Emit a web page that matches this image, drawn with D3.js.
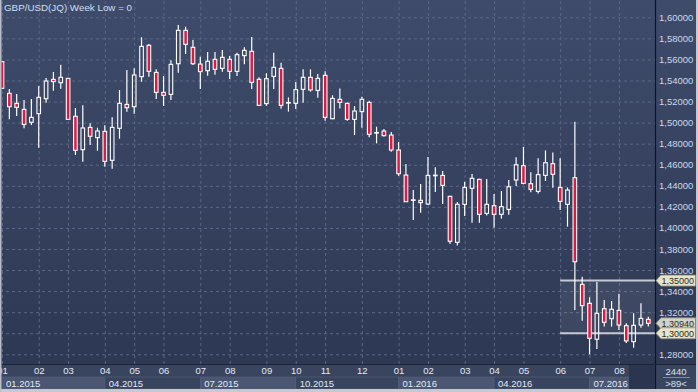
<!DOCTYPE html>
<html>
<head>
<meta charset="utf-8">
<script src="https://cdn.jsdelivr.net/npm/d3@7"></script>
<style>
  html, body { margin: 0; padding: 0; background: #2d3853; }
  svg { display: block; font-family: "Liberation Sans", Arial, sans-serif; }
</style>
</head>
<body>
<svg id="chart" width="698" height="392"></svg>
<script>
// Weekly GBP/USD candles, 01.2015 - 08.2016
const opens = [
  1.5579, 1.5278, 1.5183, 1.5126, 1.5003, 1.5085, 1.5227, 1.5411, 1.5379, 1.5420,
  1.5060, 1.4743, 1.4955, 1.4857, 1.4917, 1.4642, 1.4946, 1.5173, 1.5151, 1.5436,
  1.5734, 1.5477, 1.5287, 1.5268, 1.5559, 1.5876, 1.5715, 1.5556, 1.5493, 1.5601,
  1.5515, 1.5601, 1.5487, 1.5636, 1.5677, 1.5411, 1.5180, 1.5439, 1.5515, 1.5188,
  1.5183, 1.5316, 1.5430, 1.5306, 1.5449, 1.5037, 1.5221, 1.5183, 1.5031, 1.5104,
  1.5192, 1.4902, 1.4920, 1.4882, 1.4740, 1.4502, 1.4263, 1.4262, 1.4227, 1.4497,
  1.4499, 1.4300, 1.3863, 1.4224, 1.4376, 1.4461, 1.4138, 1.4211, 1.4129, 1.4176,
  1.4455, 1.4591, 1.4420, 1.4347, 1.4499, 1.4610, 1.4385, 1.4224, 1.4477, 1.3464,
  1.3284, 1.2943, 1.3233, 1.3138, 1.3217, 1.3072, 1.2920, 1.3078, 1.3132
];
const highs = [
  1.5585, 1.5319, 1.5272, 1.5215, 1.5224, 1.5348, 1.5423, 1.5481, 1.5550, 1.5425,
  1.5139, 1.5164, 1.4993, 1.4952, 1.4974, 1.5050, 1.5310, 1.5500, 1.5516, 1.5810,
  1.5746, 1.5506, 1.5443, 1.5591, 1.5927, 1.5911, 1.5785, 1.5626, 1.5670, 1.5670,
  1.5689, 1.5632, 1.5664, 1.5715, 1.5813, 1.5430, 1.5468, 1.5664, 1.5569, 1.5240,
  1.5385, 1.5506, 1.5506, 1.5462, 1.5487, 1.5259, 1.5325, 1.5190, 1.5158, 1.5246,
  1.5208, 1.4961, 1.4939, 1.4911, 1.4816, 1.4607, 1.4360, 1.4417, 1.4673, 1.4575,
  1.4540, 1.4305, 1.4246, 1.4439, 1.4512, 1.4466, 1.4465, 1.4322, 1.4350, 1.4455,
  1.4670, 1.4769, 1.4528, 1.4661, 1.4736, 1.4717, 1.4661, 1.4385, 1.5009, 1.3537,
  1.3341, 1.3487, 1.3316, 1.3306, 1.3376, 1.3094, 1.3189, 1.3284, 1.3157
];
const lows = [
  1.5320, 1.5031, 1.5063, 1.4946, 1.4977, 1.4762, 1.5189, 1.5303, 1.5322, 1.5025,
  1.4692, 1.4629, 1.4788, 1.4733, 1.4581, 1.4563, 1.4847, 1.5104, 1.5085, 1.5389,
  1.5436, 1.5224, 1.5158, 1.5215, 1.5474, 1.5651, 1.5547, 1.5319, 1.5446, 1.5455,
  1.5484, 1.5414, 1.5443, 1.5553, 1.5319, 1.5160, 1.5161, 1.5319, 1.5132, 1.5104,
  1.5129, 1.5189, 1.5294, 1.5237, 1.5018, 1.5032, 1.5135, 1.5018, 1.4882, 1.4952,
  1.4860, 1.4803, 1.4867, 1.4724, 1.4493, 1.4245, 1.4075, 1.4145, 1.4218, 1.4341,
  1.4227, 1.3848, 1.3832, 1.4113, 1.4050, 1.4050, 1.4117, 1.4002, 1.4088, 1.4126,
  1.4398, 1.4414, 1.4338, 1.4328, 1.4446, 1.4382, 1.4170, 1.4012, 1.3220, 1.3119,
  1.2800, 1.2851, 1.3063, 1.3063, 1.3031, 1.2908, 1.2863, 1.3053, 1.3063
];
const closes = [
  1.5326, 1.5151, 1.5145, 1.4983, 1.5050, 1.5240, 1.5395, 1.5389, 1.5430, 1.5031,
  1.4737, 1.4949, 1.4870, 1.4920, 1.4632, 1.4955, 1.5183, 1.5142, 1.5452, 1.5724,
  1.5487, 1.5287, 1.5259, 1.5553, 1.5876, 1.5743, 1.5559, 1.5484, 1.5582, 1.5506,
  1.5620, 1.5487, 1.5645, 1.5686, 1.5382, 1.5164, 1.5417, 1.5525, 1.5164, 1.5191,
  1.5313, 1.5430, 1.5310, 1.5420, 1.5050, 1.5230, 1.5192, 1.5031, 1.5110, 1.5221,
  1.4889, 1.4906, 1.4876, 1.4740, 1.4515, 1.4249, 1.4267, 1.4240, 1.4499, 1.4501,
  1.4404, 1.3873, 1.4224, 1.4385, 1.4471, 1.4129, 1.4224, 1.4129, 1.4202, 1.4391,
  1.4600, 1.4423, 1.4366, 1.4506, 1.4619, 1.4509, 1.4252, 1.4360, 1.3679, 1.3262,
  1.2952, 1.3189, 1.3104, 1.3227, 1.3078, 1.2927, 1.3075, 1.3141, 1.3094
];

// Month ticks (week index of first candle in month) and labels
const monthWeeks = [0, 5, 9, 14, 18, 22, 27, 31, 36, 40, 44, 49, 54, 58, 63, 67, 71, 76, 80, 84];
const monthLabels = ["01", "02", "03", "04", "05", "06", "07", "08", "09", "10",
  "11", "12", "01", "02", "03", "04", "05", "06", "07", "08"];
const quarterWeeks = [0, 14, 27, 40, 54, 67, 80];
const quarterLabels = ["01.2015", "04.2015", "07.2015", "10.2015", "01.2016", "04.2016", "07.2016"];

const priceTicks = [1.28, 1.30, 1.32, 1.34, 1.36, 1.38, 1.40, 1.42, 1.44, 1.46,
  1.48, 1.50, 1.52, 1.54, 1.56, 1.58, 1.60];

// Range box and price tags on the right axis
const boxStartWeek = 76;
const boxLevels = [1.35, 1.30];
const tagValues = [1.35, 1.3094, 1.30];
const tagFills = ["#e8e4c9", "#d2d2c8", "#e8e4c9"];

const title = "GBP/USD(JQ) Week Low = 0";
const footTop = "2440";
const footBottom = ">89<";

const svg = d3.select("#chart");
const W = 698, H = 392;
const plotRight = 655, plotBottom = 364;
const fmt = d => d3.format(".5f")(d).replace(".", ",");

const x = d3.scaleLinear().domain([0, opens.length - 1]).range([2, 648.3]);
const y = d3.scaleLinear().domain([1.28, 1.60]).range([354.3, 17.3]);

const defs = svg.append("defs");
const grad = defs.append("linearGradient")
  .attr("id", "bg").attr("x1", 0).attr("y1", 0).attr("x2", 0).attr("y2", 1);
grad.append("stop").attr("offset", "0%").attr("stop-color", "#3e4b6a");
grad.append("stop").attr("offset", "100%").attr("stop-color", "#2c3752");

defs.append("clipPath").attr("id", "plotclip")
  .append("rect").attr("x", 1.5).attr("y", 0).attr("width", plotRight - 1.5).attr("height", plotBottom);

svg.append("rect").attr("width", W).attr("height", H).attr("fill", "url(#bg)");

// bottom axis strip
svg.append("rect")
  .attr("x", 0).attr("y", plotBottom).attr("width", W).attr("height", H - plotBottom)
  .attr("fill", "#39445e");

// grid
const grid = svg.append("g").attr("clip-path", "url(#plotclip)");
grid.append("g")
  .call(d3.axisLeft(y).tickValues(priceTicks).tickSize(-plotRight).tickFormat(""))
  .call(g => g.select(".domain").remove())
  .call(g => g.selectAll("line")
    .attr("stroke", "#5a6785").attr("stroke-dasharray", "3,3").attr("stroke-width", 1));
grid.append("g")
  .attr("transform", `translate(0,${plotBottom})`)
  .call(d3.axisTop(x).tickValues(monthWeeks).tickSize(plotBottom).tickFormat(""))
  .call(g => g.select(".domain").remove())
  .call(g => g.selectAll("line")
    .attr("stroke", "#5a6785").attr("stroke-dasharray", "3,3").attr("stroke-width", 1));

// range box
const plot = svg.append("g").attr("clip-path", "url(#plotclip)");
plot.append("rect")
  .attr("x", x(boxStartWeek))
  .attr("y", y(boxLevels[0]))
  .attr("width", plotRight - x(boxStartWeek))
  .attr("height", y(boxLevels[1]) - y(boxLevels[0]))
  .attr("fill", "rgba(255,255,255,0.07)");
plot.selectAll("line.box")
  .data(boxLevels)
  .join("line")
  .attr("class", "box")
  .attr("x1", x(boxStartWeek)).attr("x2", plotRight)
  .attr("y1", d => y(d)).attr("y2", d => y(d))
  .attr("stroke", "#c6cad2").attr("stroke-width", 2);

// candles
const candles = opens.map((o, i) => ({ i, o, h: highs[i], l: lows[i], c: closes[i] }));
const bw = 3.6;

const cg = plot.selectAll("g.candle")
  .data(candles)
  .join("g")
  .attr("class", "candle");

cg.append("line")
  .attr("x1", d => x(d.i)).attr("x2", d => x(d.i))
  .attr("y1", d => y(d.h)).attr("y2", d => y(Math.max(d.o, d.c)))
  .attr("stroke", "#fff").attr("stroke-width", 1.2);
cg.append("line")
  .attr("x1", d => x(d.i)).attr("x2", d => x(d.i))
  .attr("y1", d => y(Math.min(d.o, d.c))).attr("y2", d => y(d.l))
  .attr("stroke", "#fff").attr("stroke-width", 1.2);
cg.append("rect")
  .attr("x", d => x(d.i) - bw / 2)
  .attr("y", d => y(Math.max(d.o, d.c)))
  .attr("width", bw)
  .attr("height", d => Math.max(0.6, Math.abs(y(d.o) - y(d.c))))
  .attr("fill", d => d.c < d.o ? "#e5173f" : "none")
  .attr("stroke", "#fff").attr("stroke-width", 1.1);

// separators
svg.append("line").attr("x1", plotRight + 0.5).attr("x2", plotRight + 0.5)
  .attr("y1", 0).attr("y2", H).attr("stroke", "#0e1422").attr("stroke-width", 1.2);
svg.append("line").attr("x1", 0).attr("x2", W)
  .attr("y1", plotBottom + 0.5).attr("y2", plotBottom + 0.5)
  .attr("stroke", "#1c2436").attr("stroke-width", 1.2);

// right price axis (levels hidden under a tag are left out)
const axisTicks = priceTicks.filter(v => !tagValues.some(t => Math.abs(t - v) < 0.003));
svg.append("g")
  .attr("transform", `translate(${plotRight},0)`)
  .call(d3.axisRight(y).tickValues(axisTicks).tickSize(0).tickPadding(4).tickFormat(fmt))
  .call(g => g.select(".domain").remove())
  .call(g => g.selectAll("text")
    .attr("fill", "#c9d9ef").attr("font-size", "9.5px")
    .attr("font-family", "Liberation Sans, Arial, sans-serif"));

// price tags
const tags = svg.selectAll("g.tag")
  .data(tagValues)
  .join("g")
  .attr("class", "tag")
  .attr("transform", d => `translate(0,${y(d)})`);
tags.append("path")
  .attr("d", "M656,0 L661,-5.5 L695.5,-5.5 L695.5,5.5 L661,5.5 Z")
  .attr("fill", (d, i) => tagFills[i])
  .attr("stroke", "#8c8c7c").attr("stroke-width", 0.8);
tags.append("text")
  .attr("x", 661.5).attr("y", 3.3)
  .attr("font-size", "9px").attr("fill", "#2b2b2b")
  .text(fmt);

// quarter boxes on the time axis
const qEnds = quarterWeeks.slice(1).map(w => x(w)).concat([629]);
svg.selectAll("rect.q")
  .data(quarterWeeks)
  .join("rect")
  .attr("class", "q")
  .attr("x", d => Math.max(2, x(d)))
  .attr("y", 377)
  .attr("width", (d, i) => qEnds[i] - Math.max(2, x(d)))
  .attr("height", 12)
  .attr("fill", (d, i) => i % 2 === 0 ? "#4a5672" : "#39445e")
  .attr("stroke", "#56627d").attr("stroke-width", 0.6);
svg.selectAll("text.q")
  .data(quarterWeeks)
  .join("text")
  .attr("class", "q")
  .attr("x", d => Math.max(2, x(d)) + 4)
  .attr("y", 386.5)
  .attr("font-size", "9.5px").attr("fill", "#e2eaf6")
  .text((d, i) => quarterLabels[i]);

// future zone in the time axis
svg.append("rect")
  .attr("x", 629).attr("y", plotBottom + 1).attr("width", plotRight - 629).attr("height", 24)
  .attr("fill", "#2b3550");

// month labels
svg.append("g")
  .attr("transform", `translate(0,${plotBottom})`)
  .call(d3.axisBottom(x).tickValues(monthWeeks).tickSize(0).tickPadding(3)
    .tickFormat((d, i) => monthLabels[i]))
  .call(g => g.select(".domain").remove())
  .call(g => g.selectAll("text")
    .attr("fill", "#e2eaf6").attr("font-size", "9.5px")
    .attr("font-family", "Liberation Sans, Arial, sans-serif"));

// bottom-right corner
svg.append("text").attr("x", 676).attr("y", 374.5).attr("text-anchor", "middle")
  .attr("font-size", "9.5px").attr("fill", "#d6e2f2").text(footTop);
svg.append("line").attr("x1", 663).attr("x2", 690).attr("y1", 377.5).attr("y2", 377.5)
  .attr("stroke", "#7d8aa3").attr("stroke-width", 1);
svg.append("text").attr("x", 676).attr("y", 386.5).attr("text-anchor", "middle")
  .attr("font-size", "9.5px").attr("fill", "#d6e2f2").text(footBottom);

// title
svg.append("text").attr("x", 4).attr("y", 11)
  .attr("font-size", "9.8px").attr("fill", "#d3dff0").text(title);

// window frame
svg.append("rect").attr("x", 0).attr("y", 389).attr("width", W).attr("height", 3).attr("fill", "#c5c9d1");
svg.append("rect").attr("x", 696).attr("y", 0).attr("width", 2).attr("height", H).attr("fill", "#c5c9d1");
svg.append("rect").attr("x", 0).attr("y", 0).attr("width", 1.5).attr("height", H).attr("fill", "#b9bec8");
</script>
</body>
</html>
